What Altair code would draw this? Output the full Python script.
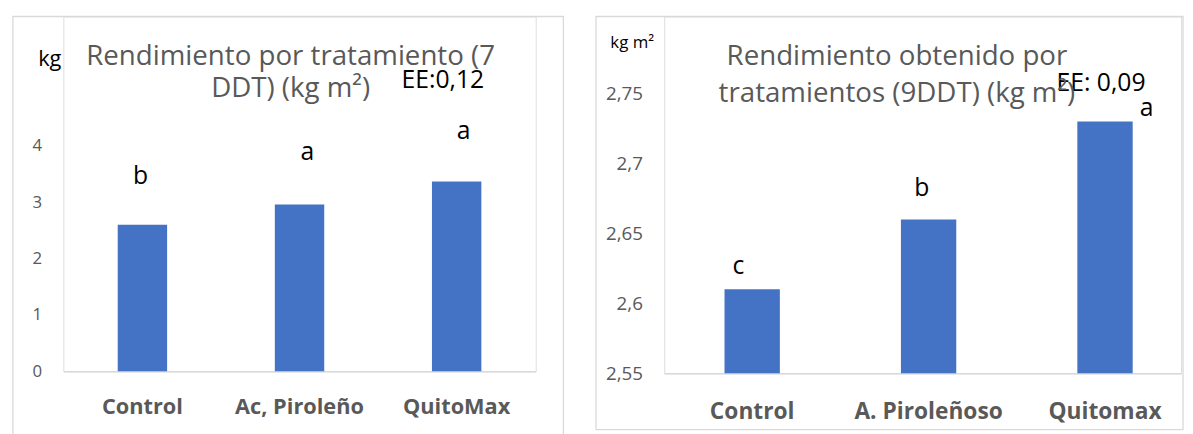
import altair as alt
import pandas as pd

# ---- data ----
cats_left = ["Control", "Ac, Piroleño", "QuitoMax"]
vals_left = [2.60, 2.96, 3.37]
letters_left = ["b", "a", "a"]
letter_y_left = [3.32, 3.75, 4.12]
ee_left = "EE:0,12"
ee_left_y = 5.02
ticks_left = [0, 1, 2, 3, 4]
title_left = ["Rendimiento por tratamiento (7", "DDT) (kg m²)"]
unit_left = "kg"

cats_right = ["Control", "A. Piroleñoso", "Quitomax"]
vals_right = [2.61, 2.66, 2.73]
letters_right = ["c", "b", "a"]
letter_y_right = [2.621, 2.677, 2.734]
ee_right = "EE: 0,09"
ee_right_y = 2.752
ticks_right = [2.55, 2.6, 2.65, 2.7, 2.75]
title_right = ["Rendimiento obtenido por", "tratamientos (9DDT) (kg m²)"]
unit_right = "kg m²"

FONT = "Open Sans"
BAR = "#4472C4"
GRAY = "#595959"
FRAME = "#D9D9D9"


def panel(cats, vals, letters, letter_y, ee_text, ee_y, ticks, domain, base,
          width, height, unit, unit_xy, unit_size, title, title_size, title_lh,
          title_dx, title_offset, frame, band, letter_dx, ee_dx,
          xlab_size, xlab_pad, ylab_size):
    df = pd.DataFrame({"cat": cats, "v": vals, "letter": letters, "ly": letter_y})
    xscale = alt.Scale(domain=cats, paddingInner=band[0], paddingOuter=band[1], align=band[2])
    xenc = alt.X(
        "cat:N", sort=cats, scale=xscale,
        axis=alt.Axis(title=None, labelAngle=0, labelFont=FONT, labelFontSize=xlab_size,
                      labelFontWeight="bold", labelColor=GRAY, labelPadding=xlab_pad,
                      ticks=False, tickSize=0, domainColor=FRAME, domainWidth=1.3,
                      grid=False, labelOverlap=False),
    )
    yscale = alt.Scale(domain=domain, zero=False, nice=False)
    yenc = alt.Y(
        "v:Q", scale=yscale,
        axis=alt.Axis(values=ticks, labelExpr="replace(toString(datum.value), '.', ',')",
                      title=unit, titleAngle=0, titleX=unit_xy[0], titleY=unit_xy[1],
                      titleAlign="left", titleBaseline="middle", titleFont=FONT,
                      titleFontSize=unit_size, titleFontWeight="normal", titleColor="black",
                      domain=False, ticks=False, tickSize=0, grid=False, labelPadding=22,
                      labelFont=FONT, labelFontSize=ylab_size, labelColor=GRAY,
                      labelOverlap=False),
    )

    frame_layer = alt.Chart(pd.DataFrame({"k": [0]})).mark_rect(
        fill="white", fillOpacity=0, stroke=FRAME, strokeWidth=1.3
    ).encode(
        x=alt.value(frame[0]), x2=alt.value(frame[1]),
        y=alt.value(frame[2]), y2=alt.value(frame[3]),
    )

    bars = alt.Chart(df).mark_bar(color=BAR).encode(
        x=xenc, y=yenc, y2=alt.datum(base)
    )

    letter_layers = []
    for c, dx in zip(cats, letter_dx):
        letter_layers.append(
            alt.Chart(df).transform_filter(alt.datum.cat == c).mark_text(
                font=FONT, fontSize=25, color="black", baseline="alphabetic", dx=dx
            ).encode(x=alt.X("cat:N", sort=cats), y=alt.Y("ly:Q"), text="letter:N")
        )

    ee_layer = alt.Chart(pd.DataFrame({"cat": [cats[-1]], "ly": [ee_y], "t": [ee_text]})).mark_text(
        font=FONT, fontSize=25, color="black", baseline="alphabetic", dx=ee_dx
    ).encode(x=alt.X("cat:N", sort=cats), y=alt.Y("ly:Q"), text="t:N")

    return alt.layer(frame_layer, bars, *letter_layers, ee_layer).properties(
        width=width, height=height,
        title=alt.TitleParams(text=title, font=FONT, fontSize=title_size, fontWeight="normal",
                              color=GRAY, anchor="middle", dx=title_dx, offset=title_offset,
                              lineHeight=title_lh),
    )


# plot areas start at the panel's top edge; baseline at the value axis minimum
left = panel(cats_left, vals_left, letters_left, letter_y_left, ee_left, ee_left_y,
             ticks_left, [0, 6.298], 0, 478, 359, unit_left, (-26, 43), 22,
             title_left, 28, 32, -9, -88, (-51, 506, 0, 428),
             (0.6855, 0.346, 0.5), (-2, 8, 7), -14, 22, 26, 17)

right = panel(cats_right, vals_right, letters_right, letter_y_right, ee_right, ee_right_y,
              ticks_right, [2.55, 2.8051], 2.55, 523, 361, unit_right, (-55, 26), 17,
              title_right, 28, 37, -26, -93, (-69, 525, 0, 418),
              (0.6863, 0.308, 0.555), (-14, -7, 42), -4, 23, 28, 19)

chart = alt.hconcat(left, right, spacing=29).properties(
    padding={"left": 3, "top": 4, "right": 0, "bottom": 0}
).configure_view(stroke=None).configure(font=FONT)

chart.save("out.html", embed_options={"renderer": "svg", "actions": False})
